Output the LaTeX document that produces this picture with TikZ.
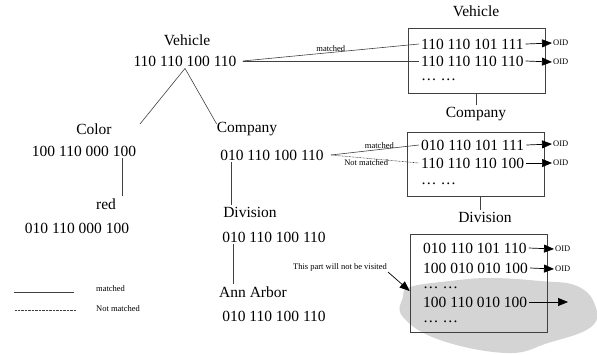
\documentclass[tikz,border=0pt]{standalone}
\usepackage{fontspec}
\setmainfont{Liberation Serif}
\usetikzlibrary{arrows.meta,positioning}
\begin{document}
\begin{tikzpicture}[x=1pt,y=-1pt,
 big/.style={font=\fontsize{15.5}{18}\selectfont,inner sep=2pt},
 note/.style={font=\fontsize{8.5}{10}\selectfont,inner sep=1pt},
 row/.style={big,anchor=west},
 box/.style={draw=black!75,line width=0.7pt,minimum width=137pt,inner sep=0pt},
 ln/.style={draw=black!75,line width=0.6pt},
 nm/.style={ln,dash pattern=on 0.7pt off 0.7pt},
 arr/.style={draw=black,line width=0.7pt,-{Triangle[length=10pt,width=8pt]}},
 oid/.style={note,anchor=west}]
\useasboundingbox (0,0) rectangle (597,354);
\fill[black!17] plot[smooth cycle,tension=0.7] coordinates {(403,297) (410,287) (450,281) (490,278) (540,281) (577,286) (595,305) (591,327) (548,343) (507,353) (440,340) (403,317)};
% query tree
\node[big] (hveh) at (187,40) {Vehicle};
\node[big] (vnum) at (185,61) {110 110 100 110};
\coordinate (colortop) at (140,124);
\node[big] (hcolor) at (94,129) {Color};
\node[big] (colnum) at (84,151) {100 110 000 100};
\node[big] (hred) at (106,204) {red};
\node[big] (rednum) at (77,228) {010 110 000 100};
\node[big] (hcomp) at (247,129) {Company};
\node[big] (compnum) at (272,155) {010 110 100 110};
\node[big] (hdiv) at (250,212) {Division};
\node[big] (divnum) at (274,237) {010 110 100 110};
\node[big] (hann) at (253,292) {Ann Arbor};
\node[big] (annnum) at (274,316) {010 110 100 110};
\draw[ln] (vnum.south) -- (colortop);
\draw[ln] (vnum.south) -- ([xshift=2pt,yshift=-4pt]hcomp.north west);
\draw[ln] ([xshift=4pt]colnum.south -| hred.north east) -- ([xshift=4pt]hred.north east);
\draw[ln] ([xshift=13pt]compnum.south west) -- ([xshift=13pt]compnum.south west |- hdiv.north);
\draw[ln] ([xshift=13pt]divnum.south west) -- ([xshift=13pt]divnum.south west |- hann.north);
% signature files
\node[big] (rveh) at (476,11) {Vehicle};
\node[box,minimum height=65pt] (vbox) at (476.5,60.5) {};
\node[row] (v1) at (419,44) {110 110 101 111};
\node[row] (v2) at (419,61) {110 110 110 110};
\node[row] (v3) at (419,80) {… …};
\node[oid] (o1) at (552,43) {OID};
\node[oid] (o2) at (552,62) {OID};
\draw[arr] (v1.east) -- (o1.west);
\draw[arr] (v2.east) -- (o2.west);
\node[big] (rcomp) at (476,114) {Company};
\draw[ln] (vbox.south) -- (vbox.south |- rcomp.north);
\node[box,minimum height=64pt] (cbox) at (476,164) {};
\node[row] (c1) at (419,145) {010 110 101 111};
\node[row] (c2) at (419,163) {110 110 110 100};
\node[row] (c3) at (419,184) {… …};
\node[oid] (o3) at (552,144) {OID};
\node[oid] (o4) at (552,163) {OID};
\draw[arr] (c1.east) -- (o3.west);
\draw[arr] (c2.east) -- (o4.west);
\node[big] (rdiv) at (485,217) {Division};
\draw[ln] ([xshift=4pt]cbox.south) -- ([xshift=4pt]cbox.south |- rdiv.north);
\node[box,minimum height=98pt] (dbox) at (478.5,283) {};
\node[row] (d1) at (421,248) {010 110 101 110};
\node[row] (d2) at (421,268) {100 010 010 100};
\node[row] (d3) at (421,288) {… …};
\node[row] (d4) at (421,302) {100 110 010 100};
\node[row] (d5) at (421,322) {… …};
\node[oid] (o5) at (554,249) {OID};
\node[oid] (o6) at (554,269) {OID};
\coordinate (d4end) at (568,302);
\draw[arr] (d1.east) -- (o5.west);
\draw[arr] (d2.east) -- (o6.west);
\draw[arr] (d4.east) -- (d4end);
% matching
\draw[ln] ([xshift=4pt]vnum.east) -- node[note,above]{matched} (v1.west);
\draw[ln] ([xshift=4pt]vnum.east) -- (v2.west);
\draw[ln] ([xshift=5pt]compnum.east) -- node[note,above,pos=0.55]{matched} (c1.west);
\draw[nm] ([xshift=5pt]compnum.east) -- node[note,below,pos=0.4]{Not matched} (c2.west);
\node[note] (visit) at (340,267) {This part will not be visited};
\draw[arr] (visit.south east) -- ([yshift=-8pt]dbox.west);
% legend
\coordinate (la) at (14,292);
\coordinate (lb) at (74,292);
\coordinate (lc) at (15,310);
\coordinate (ld) at (76,310);
\draw[ln] (la) -- (lb);
\draw[nm] (lc) -- (ld);
\node[note,anchor=west] (lmat) at (95,289) {matched};
\node[note,anchor=west] (lnot) at (95,309) {Not matched};
\end{tikzpicture}
\end{document}
